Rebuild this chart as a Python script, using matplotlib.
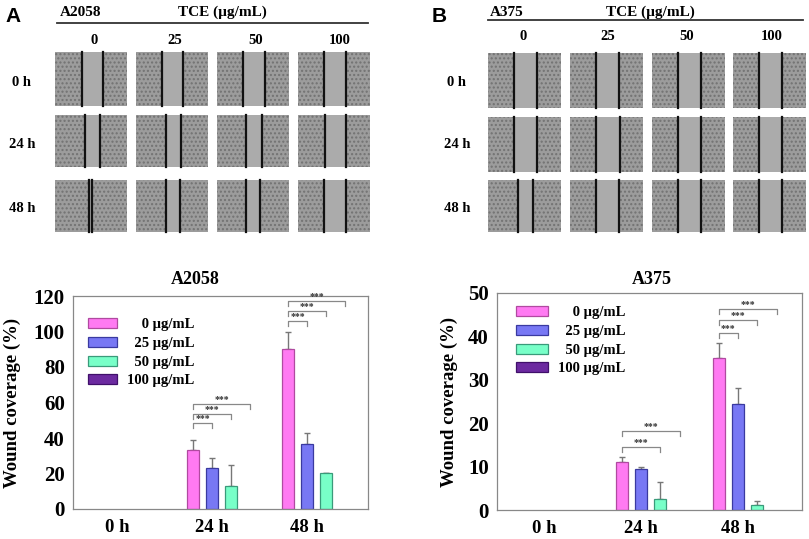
import matplotlib
matplotlib.use("Agg")
import matplotlib.pyplot as plt
from matplotlib.patches import Rectangle, Patch
import numpy as np

# ---------------- data ----------------
times = ["0 h", "24 h", "48 h"]
doses = ["0 µg/mL", "25 µg/mL", "50 µg/mL", "100 µg/mL"]
legend_labels = ["\u2007\u20070 µg/mL", "\u200725 µg/mL", "\u200750 µg/mL", "100 µg/mL"]
dose_cols = ["0", "25", "50", "100"]

# A2058 wound coverage (%), per dose, over times
a2058_vals = [[0, 33, 90], [0, 23, 36.7], [0, 13, 20.2], [0, 0, 0]]
a2058_err = [[0, 6, 10], [0, 6, 6], [0, 12, 0], [0, 0, 0]]
# A375
a375_vals = [[0, 11.1, 35.1], [0, 9.5, 24.4], [0, 2.5, 1.15], [0, 0, 0]]
a375_err = [[0, 1.0, 3.4], [0, 0.5, 3.7], [0, 4.0, 1.0], [0, 0, 0]]

# significance brackets: (time index, target dose index, level)
a2058_sig = [(1, 1, 48.5), (1, 2, 53.5), (1, 3, 59), (2, 1, 106), (2, 2, 111.5), (2, 3, 117)]
a375_sig = [(1, 2, 14.6), (1, 3, 18.3), (2, 1, 40.8), (2, 2, 43.8), (2, 3, 46.4)]

# wound edge fractions in each micrograph (rows 0h/24h/48h, cols doses)
a2058_edges = [[(0.37, 0.67), (0.36, 0.65), (0.36, 0.67), (0.36, 0.66)],
               [(0.42, 0.62), (0.41, 0.63), (0.40, 0.62), (0.38, 0.67)],
               [(0.47, 0.52), (0.41, 0.61), (0.40, 0.60), (0.36, 0.66)]]
a375_edges = [[(0.36, 0.67), (0.36, 0.67), (0.36, 0.67), (0.36, 0.67)],
              [(0.36, 0.67), (0.36, 0.68), (0.36, 0.67), (0.36, 0.67)],
              [(0.41, 0.61), (0.36, 0.67), (0.36, 0.67), (0.36, 0.67)]]

fills = ["#ff7af2", "#7878f4", "#78ffc8", "#6c2aa0"]
edges = ["#b04aa0", "#3a3aa0", "#3a9a7a", "#40106a"]

SERIF = ["Liberation Serif", "DejaVu Serif"]
SANS = ["Liberation Sans", "DejaVu Sans"]
plt.rcParams["font.family"] = SERIF
plt.rcParams["font.weight"] = "bold"

W, H = 809, 539
fig = plt.figure(figsize=(W / 100, H / 100), dpi=100)

# ---------------- top micrograph panels (overlay in pixel coords) ----------------
ov = fig.add_axes([0, 0, 1, 1], zorder=0)
ov.set_xlim(0, W)
ov.set_ylim(H, 0)
ov.axis("off")

panels = [
    dict(letter="A", lx=5, cell="A2058", cx=60, tce=222, line=(57, 368, 23), collab_y=40,
         collab_x=[94, 175, 256, 340],
         xs=[55, 136, 217, 298], cw=72, ys=[52, 115, 180], ch=[54, 52, 52],
         rowlab_x=22, rowlab_y=[83, 145, 208], edges=a2058_edges),
    dict(letter="B", lx=432, cell="A375", cx=490, tce=650, line=(488, 803, 20), collab_y=37,
         collab_x=[523, 608, 687, 772],
         xs=[488, 570, 652, 733], cw=73, ys=[53, 117, 180], ch=[55, 55, 52],
         rowlab_x=457, rowlab_y=[83, 145, 208], edges=a375_edges),
]

for p in panels:
    ov.text(p["lx"], 16, p["letter"], family=SANS, fontsize=15, fontweight="bold",
            ha="left", va="center")
    ov.text(p["cx"], 12, p["cell"], fontsize=11, fontweight="bold", ha="left", va="center")
    ov.text(p["tce"], 12, "TCE (µg/mL)", fontsize=11, fontweight="bold", ha="center", va="center")
    x0, x1, yl = p["line"]
    ov.plot([x0, x1], [yl, yl], color="#333333", lw=1.3)
    for j, lab in enumerate(dose_cols):
        ov.text(p["collab_x"][j], p["collab_y"], lab, fontsize=10.5,
                fontweight="bold", ha="center", va="center")
    for i, t in enumerate(times):
        ov.text(p["rowlab_x"], p["rowlab_y"][i], t, fontsize=10.5, fontweight="bold",
                ha="center", va="center")
        for j in range(4):
            x = p["xs"][j]
            y = p["ys"][i]
            w = p["cw"]
            h = p["ch"][i]
            ov.add_patch(Rectangle((x, y), w, h, facecolor="#9c9c9c", edgecolor="#727272",
                                   lw=0, hatch="...."))
            e0, e1 = p["edges"][i][j]
            ov.add_patch(Rectangle((x + e0 * w, y), (e1 - e0) * w, h,
                                   facecolor="#ababab", edgecolor="none", lw=0))
            for e in (e0, e1):
                ov.plot([x + e * w, x + e * w], [y, y + h], color="#111111", lw=1.6)

# ---------------- bar charts ----------------
def bar_chart(rect, vals, errs, sigs, ymax, yticks, title, title_x, xlim, leg_anchor,
              handlelength, tip, ylab_x, labelspacing):
    ax = fig.add_axes(rect, zorder=1)
    x = np.arange(len(times))
    offs = [-0.2, 0.0, 0.2, 0.4]
    bw = 0.125
    for k in range(4):
        v = np.array(vals[k], dtype=float)
        e = np.array(errs[k], dtype=float)
        mask = v > 0
        if not mask.any():
            continue
        xs = (x + offs[k])[mask]
        ax.bar(xs, v[mask], width=bw, color=fills[k], edgecolor=edges[k],
               linewidth=0.9, zorder=2)
        ax.errorbar(xs, v[mask], yerr=[np.zeros(mask.sum()), e[mask]], fmt="none",
                    ecolor="#777777", elinewidth=1.0, capsize=2.5, capthick=1.0, zorder=1)
    for (ti, tgt, lvl) in sigs:
        xa = ti + offs[0]
        xb = ti + offs[tgt]
        ax.plot([xa, xa, xb, xb], [lvl - tip, lvl, lvl, lvl - tip], color="#888888",
                lw=0.9, zorder=3)
        ax.text((xa + xb) / 2, lvl, "***", fontsize=7, ha="center", va="bottom",
                color="#333333", zorder=3)
    ax.set_xlim(*xlim)
    ax.set_ylim(0, ymax)
    ax.set_yticks(yticks)
    ax.set_yticklabels([str(t) for t in yticks], fontsize=15, fontweight="bold")
    ax.set_xticks(x)
    ax.set_xticklabels(times, fontsize=13.5, fontweight="bold")
    ax.tick_params(axis="both", length=0)
    ax.tick_params(axis="y", pad=6)
    ax.tick_params(axis="x", pad=7)
    for s in ax.spines.values():
        s.set_color("#888888")
        s.set_linewidth(0.9)
    ax.set_ylabel("Wound coverage (%)", fontsize=13.5, fontweight="bold")
    ax.yaxis.set_label_coords(ylab_x, 0.5)
    fig.text(title_x, 1 - 280 / H, title, fontsize=13, fontweight="bold",
             ha="center", va="center")
    handles = [Patch(facecolor=fills[k], edgecolor=edges[k], linewidth=0.9) for k in range(4)]
    ax.legend(handles, legend_labels, loc="upper left", bbox_to_anchor=leg_anchor,
              frameon=False, prop=dict(family=SERIF, weight="bold", size=10.5),
              handlelength=handlelength, handleheight=0.7, labelspacing=labelspacing,
              handletextpad=0.7, borderpad=0, borderaxespad=0)
    return ax

bar_chart([73 / W, 1 - 509 / H, 295 / W, 213 / H], a2058_vals, a2058_err, a2058_sig,
          120, [0, 20, 40, 60, 80, 100, 120], "A2058", 195 / W,
          (-0.463, 2.642), ((88 - 73) / 295, 1 - (318 - 296) / 213), 2.0, 2.8,
          -(73 - 21) / 295, 0.38)

bar_chart([497 / W, 1 - 510 / H, 305 / W, 217 / H], a375_vals, a375_err, a375_sig,
          50, [0, 10, 20, 30, 40, 50], "A375", 652 / W,
          (-0.485, 2.66), ((516 - 497) / 305, 1 - (306 - 293) / 217), 2.2, 1.2,
          -(497 - 458) / 305, 0.38)

fig.savefig("out.png", dpi=100)
